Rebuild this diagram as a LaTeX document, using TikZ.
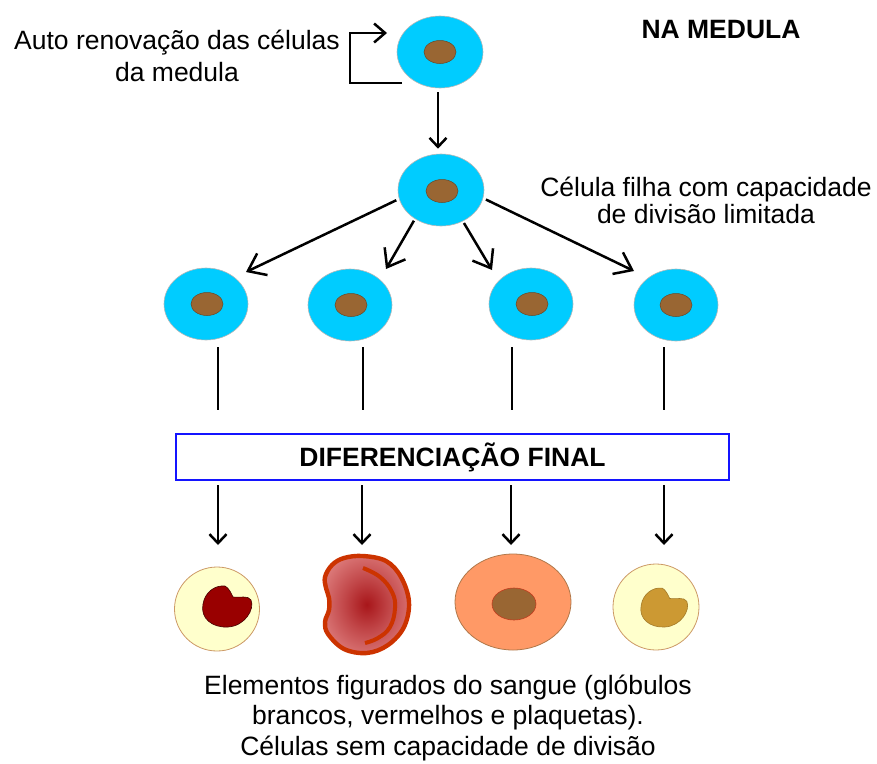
\documentclass[tikz,border=0pt]{standalone}
\usepackage{fontspec}
\setmainfont{Liberation Sans}
\usetikzlibrary{arrows.meta,shapes.geometric}
\definecolor{cellblue}{HTML}{00CCFF}
\definecolor{nucbrown}{HTML}{996633}
\definecolor{wbcfill}{HTML}{FFFFCC}
\definecolor{wbcline}{HTML}{CC9966}
\definecolor{nucred}{HTML}{990000}
\definecolor{nucgold}{HTML}{CC9933}
\definecolor{rbcin}{HTML}{A8161A}
\definecolor{rbcout}{HTML}{DA7676}
\definecolor{rbcline}{HTML}{CC3300}
\definecolor{orangecell}{HTML}{FF9966}
\definecolor{orangeline}{HTML}{B0784A}
\definecolor{boxblue}{HTML}{1414FF}
\pgfdeclareradialshading{rbcshade}{\pgfpoint{0bp}{0bp}}{color(0bp)=(rbcin); color(13bp)=(rbcin!50!rbcout); color(27bp)=(rbcout); color(50bp)=(rbcout)}
\tikzset{
  blob/.pic={\path[pic actions] (6,-10) .. controls (13,-9) and (21,-12) .. (24,-7)
     .. controls (28,2) and (18,19) .. (1,20)
     .. controls (-15,21) and (-27,11) .. (-24,-3)
     .. controls (-22,-15) and (-12,-22) .. (-2,-21)
     .. controls (2,-19) and (4,-14) .. (6,-10) -- cycle;}
}
\begin{document}
\begin{tikzpicture}[x=1pt,y=-1pt,
  txt/.style={font=\fontsize{26.5}{31}\selectfont, inner sep=0pt, anchor=base},
  btxt/.style={font=\fontsize{26.5}{31}\selectfont\bfseries, inner sep=0pt, anchor=base},
  stem/.style={ellipse, fill=cellblue, draw=black!28, line width=0.6pt, minimum width=86pt, minimum height=72pt, inner sep=0pt},
  stemsm/.style={stem, minimum width=84pt},
  nuc/.style={ellipse, fill=nucbrown, draw=nucbrown!70!black, line width=0.5pt, minimum width=32pt, minimum height=23pt, inner sep=0pt},
  wbc/.style={ellipse, fill=wbcfill, draw=wbcline, line width=0.8pt, inner sep=0pt},
  ln/.style={line width=2.5pt},
  arr/.style={ln, -{Straight Barb[length=9pt,width=17pt]}},
  bigarr/.style={ln, -{Straight Barb[length=16pt,width=24pt]}},
]
\useasboundingbox (0,0) rectangle (877,763);

% texts
\node[txt] (t1a) at (177,49) {Auto renovação das células};
\node[txt] (t1b) at (177,81) {da medula};
\node[btxt] (t2) at (721,38) {NA MEDULA};
\node[txt] (t3a) at (706,196) {Célula filha com capacidade};
\node[txt] (t3b) at (706,223) {de divisão limitada};
\node[txt] (t4a) at (448,694.5) {Elementos figurados do sangue (glóbulos};
\node[txt] (t4b) at (448,724.5) {brancos, vermelhos e plaquetas).};
\node[txt] (t4c) at (448,755) {Células sem capacidade de divisão};

% stem cells
\node[stem] (c1) at (440,52) {};
\node[nuc] (n1) at (440,52) {};
\node[stem] (c2) at (441,190) {};
\node[nuc] (n2) at (442,191) {};
\node[stemsm] (cA) at (206,304) {};
\node[nuc] (nA) at (207,304) {};
\node[stemsm] (cB) at (350,305) {};
\node[nuc] (nB) at (351,305) {};
\node[stemsm] (cC) at (531,304) {};
\node[nuc] (nC) at (532,304) {};
\node[stemsm] (cD) at (676,305) {};
\node[nuc] (nD) at (676,305) {};

% self renewal bracket
\coordinate (bs) at (402,83);
\coordinate (bk) at (350,33);
\coordinate (bt) at (387,33);
\draw[ln, -{Straight Barb[length=11pt,width=19pt]}, line join=miter] (bs) -| (bk) -- (bt);

% c1 -> c2
\draw[arr, shorten <=4pt, shorten >=5pt] ([xshift=-2pt]c1.south) -- ([xshift=-3pt]c2.north);

% c2 -> row 3
\coordinate (tA) at (246,272);
\coordinate (tB) at (386,269);
\coordinate (tC) at (492,270);
\coordinate (tD) at (634,271);
\draw[bigarr, shorten <=3pt] (c2.192) -- (tA);
\draw[bigarr, shorten <=2pt] (c2.228) -- (tB);
\draw[bigarr, shorten <=2pt] (c2.305) -- (tC);
\draw[bigarr, shorten <=3pt] (c2.349) -- (tD);

% box
\node[draw=boxblue, line width=2.6pt, minimum width=553pt, minimum height=46pt, inner sep=0pt,
      font=\fontsize{26.5}{31}\selectfont\bfseries] (box) at (452.5,457) {DIFERENCIAÇÃO FINAL};

% lines from row 3 to box
\coordinate (vAt) at (218,347); \coordinate (vAb) at (218,410);
\coordinate (vBt) at (363,347); \coordinate (vBb) at (363,410);
\coordinate (vCt) at (512,347); \coordinate (vCb) at (512,410);
\coordinate (vDt) at (664,347); \coordinate (vDb) at (664,410);
\draw[ln] (vAt) -- (vAb);
\draw[ln] (vBt) -- (vBb);
\draw[ln] (vCt) -- (vCb);
\draw[ln] (vDt) -- (vDb);

% arrows from box
\coordinate (eA) at (218,545);
\coordinate (eB) at (362,545);
\coordinate (eC) at (511,545);
\coordinate (eD) at (664,545);
\draw[arr, shorten <=4pt] (box.south -| eA) -- (eA);
\draw[arr, shorten <=4pt] (box.south -| eB) -- (eB);
\draw[arr, shorten <=4pt] (box.south -| eC) -- (eC);
\draw[arr, shorten <=4pt] (box.south -| eD) -- (eD);

% white blood cell (left)
\node[wbc, minimum width=85pt, minimum height=84pt] (wA) at (217,609) {};
\pic[fill=nucred, draw=nucred!45!black, line width=0.6pt] (bA) at (227,607) {blob};

% red blood cell
\shadedraw[shading=rbcshade, draw=rbcline, line width=4.4pt]
  plot[smooth cycle, tension=0.6] coordinates {(363,556) (386,561) (401,577) (409,602) (404,627) (388,645) (367,653) (344,649) (328,634) (325,622) (329,610) (329,598) (326,588) (325,577) (332,565) (344,558)};
\draw[rbcline, line width=4pt] plot[smooth, tension=0.7] coordinates {(363,568) (380,577) (392,592) (395,608) (390,627) (378,638) (365,643)};

% orange cell
\node[ellipse, fill=orangecell, draw=orangeline, line width=0.8pt, minimum width=116pt, minimum height=96pt, inner sep=0pt] (oC) at (513,602) {};
\node[ellipse, fill=nucbrown, draw=nucbrown!60!red, line width=0.6pt, minimum width=44pt, minimum height=32pt, inner sep=0pt] (onC) at (514,604) {};

% white cell (right)
\node[wbc, minimum width=86pt, minimum height=86pt] (wD) at (656,607) {};
\pic[fill=nucgold, draw=nucgold!80!black, line width=0.6pt, scale=0.95] (bD) at (664,608) {blob};
\end{tikzpicture}
\end{document}
